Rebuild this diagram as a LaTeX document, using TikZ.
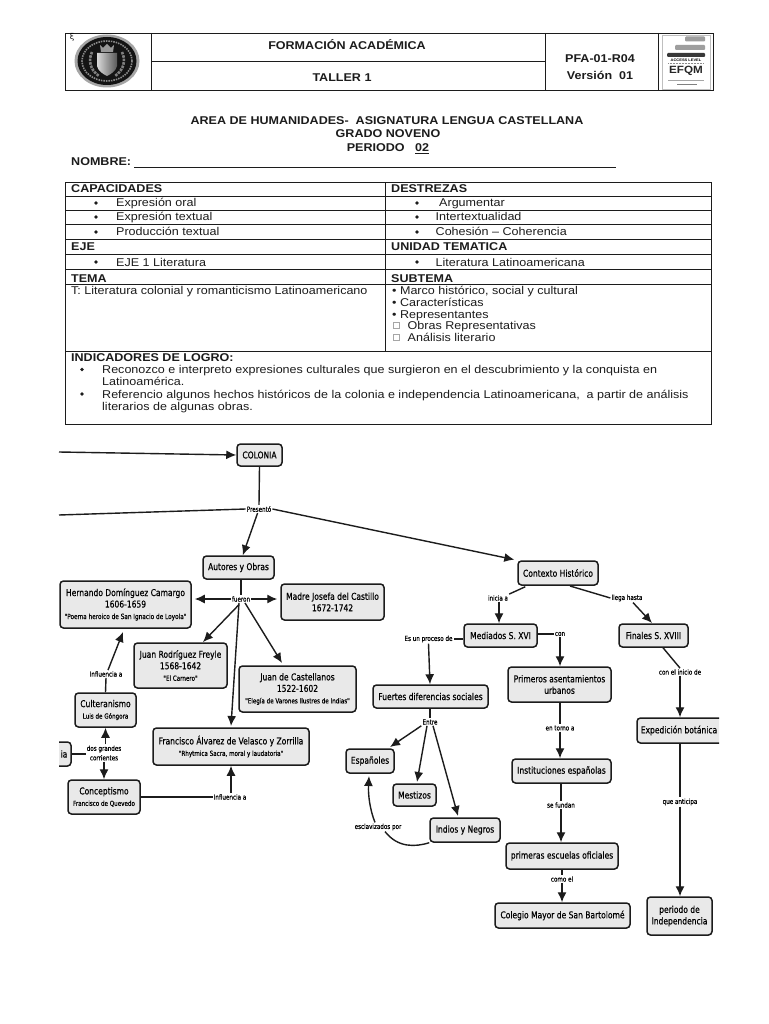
\documentclass[tikz,border=0pt]{standalone}
\usepackage{fontspec}
\setmainfont[FakeStretch=1.11]{Liberation Sans}
\newfontfamily\mapfont[FakeStretch=0.8,FakeBold=0.5]{DejaVu Sans}
\newfontfamily\symfont{DejaVu Sans}
\usetikzlibrary{arrows.meta,calc}
\definecolor{ink}{HTML}{1C1C1C}
\definecolor{boxfill}{HTML}{E9E9E9}
\tikzset{
  x=1pt,y=-1pt,
  frame/.style={draw=ink,line width=0.9pt},
  rule/.style={draw=ink,line width=0.8pt},
  head/.style={font=\fontsize{11.3}{13}\selectfont\bfseries,text=ink,inner sep=0pt,anchor=base,yshift=-4pt},
  cellb/.style={font=\fontsize{11.3}{13}\selectfont\bfseries,text=ink,inner sep=0pt,anchor=base west,yshift=-4pt},
  cell/.style={font=\fontsize{11.3}{13}\selectfont,text=ink,inner sep=0pt,anchor=base west,yshift=-4pt},
  dot/.style={fill=ink,circle,inner sep=0pt,minimum size=3.6pt},
  chk/.style={draw=black!35,line width=0.4pt,inner sep=0pt,minimum size=6pt},
  concept/.style={draw=ink,line width=1.5pt,fill=boxfill,rounded corners=3.5pt,inner sep=0pt,
    align=center,text=black,font=\mapfont\fontsize{9.45}{11.5}\selectfont},
  link/.style={font=\mapfont\fontsize{7}{9.5}\selectfont,text=black,inner sep=1pt,align=center},
  line/.style={draw=ink,line width=1.4pt},
  arr/.style={draw=ink,line width=1.4pt,-{Latex[length=10pt,width=9pt]}},
}
\newcommand{\cbox}[6]{\node[concept,minimum width=#3-#1,minimum height=#4-#2] (#5) at ({(#1+#3)/2},{(#2+#4)/2}) {#6};}
\newcommand{\subl}[1]{{\fontsize{7}{8}\selectfont #1}}
\begin{document}
\begin{tikzpicture}
\useasboundingbox[fill=white] (0,0) rectangle (768,1024);
% ---------- header
\path[frame] (65,33) rectangle (713,90.5);
\path[rule] (151,33) -- (151,90.5) (545,33) -- (545,90.5) (658,33) -- (658,90.5) (151,61.5) -- (545,61.5);
\node[head] (h1) at (347,46) {FORMACIÓN ACADÉMICA};
\node[head] (h2) at (342,78) {TALLER 1};
\node[head] (h3) at (600,59) {PFA-01-R04};
\node[head] (h4) at (600,76) {Versión\ \ 01};
% school seal
\node[font=\fontsize{8}{9}\selectfont,inner sep=0pt] (xi) at (72,37) {\symfont ξ};
\path[fill=black!35] (107,61) ellipse (32.5 and 26.5);
\path[fill=black!92] (107,61) ellipse (29.5 and 24);
\path[draw=black!45,line width=1.6pt,dash pattern=on 1.5pt off 1pt] (107,61) ellipse (25 and 20);
\path[draw=black!50,line width=2.6pt,dash pattern=on 2.5pt off 1pt] (92,52) .. controls (88,60) and (90,70) .. (99,76);
\path[draw=black!50,line width=2.6pt,dash pattern=on 2.5pt off 1pt] (122,52) .. controls (126,60) and (124,70) .. (115,76);
\path[left color=black!15,right color=black!65] (97,53) -- (117,53) -- (117,66) .. controls (116,71) and (111,74) .. (107,76) .. controls (103,74) and (98,71) .. (97,66) -- cycle;
\path[fill=black!40] (100,45) -- (103,48) -- (107,44) -- (111,48) -- (114,45) -- (113,52) -- (101,52) -- cycle;
% EFQM badge
\path[draw=black!25,line width=0.5pt] (662,35) rectangle (710,89);
\path[fill=black!38,rounded corners=1pt] (685,36.5) rectangle (705,41.5);
\path[fill=black!38,rounded corners=1pt] (675,45) rectangle (705,50);
\path[fill=black!78,rounded corners=1pt] (667,53) rectangle (705,57);
\node[font=\fontsize{3.6}{4}\selectfont\bfseries,inner sep=0pt] (ac) at (686,60) {ACCESS LEVEL};
\path[draw=black!45,line width=0.6pt,dash pattern=on 1pt off 0.5pt] (668,63) -- (704,63);
\node[font=\fontsize{10.5}{11}\selectfont\bfseries,inner sep=0pt,text=black!85] (efqm) at (686,71) {EFQM};
\path[draw=black!35,line width=0.5pt] (668,80) -- (704,80);
\path[draw=black!50,line width=0.7pt] (677,84.5) -- (697,84.5);
% ---------- title
\node[head] (t1) at (387,121) {AREA DE HUMANIDADES-\ \ ASIGNATURA LENGUA CASTELLANA};
\node[head] (t2) at (388,134) {GRADO NOVENO};
\node[head] (t3) at (388,148) {PERIODO\ \ \ \underline{02}};
\node[cellb] (t4) at (71,162) {NOMBRE:};
\path[draw=ink,line width=0.8pt] (134,167) -- (616,167);
% ---------- table
\path[frame] (65,182.5) rectangle (711,424);
\path[rule] (385.5,182.5) -- (385.5,351);
\foreach \yy in {196,210,224.5,239,254,269,284.5,351} {\path[rule] (65,\yy) -- (711,\yy);}
\node[cellb] (c1) at (71,189) {CAPACIDADES};
\node[cellb] (c2) at (391,189) {DESTREZAS};
\node[dot] (d1) at (96,203) {};
\node[cell] (c3) at (116,203) {Expresión oral};
\node[dot] (d2) at (96,217) {};
\node[cell] (c4) at (116,217) {Expresión textual};
\node[dot] (d3) at (96,232) {};
\node[cell] (c5) at (116,232) {Producción textual};
\node[dot] (d4) at (417,203) {};
\node[cell] (c6) at (439,203) {Argumentar};
\node[dot] (d5) at (417,217) {};
\node[cell] (c7) at (435.5,217) {Intertextualidad};
\node[dot] (d6) at (417,232) {};
\node[cell] (c8) at (435.5,232) {Cohesión – Coherencia};
\node[cellb] (c9) at (71,247) {EJE};
\node[cellb] (c10) at (391,247) {UNIDAD TEMATICA};
\node[dot] (d7) at (96,262) {};
\node[cell] (c11) at (116,262) {EJE 1 Literatura};
\node[dot] (d8) at (417,262) {};
\node[cell] (c12) at (435.5,262) {Literatura Latinoamericana};
\node[cellb] (c13) at (71,278) {TEMA};
\node[cellb] (c14) at (391,278) {SUBTEMA};
\node[cell] (c15) at (71,290.5) {T: Literatura colonial y romanticismo Latinoamericano};
\node[cell] (c16) at (392,290.5) {• Marco histórico, social y cultural};
\node[cell] (c17) at (392,302) {• Características};
\node[cell] (c18) at (392,314) {• Representantes};
\node[chk] (b1) at (396,325.5) {};
\node[cell] (c19) at (407.5,325.5) {Obras Representativas};
\node[chk] (b2) at (396,337.5) {};
\node[cell] (c20) at (407.5,337.5) {Análisis literario};
\node[cellb] (c21) at (71,357.5) {INDICADORES DE LOGRO:};
\node[dot] (d9) at (82,369.5) {};
\node[cell] (c22) at (102,369.5) {Reconozco e interpreto expresiones culturales que surgieron en el descubrimiento y la conquista en};
\node[cell] (c23) at (102,381) {Latinoamérica.};
\node[dot] (d10) at (82,394) {};
\node[cell] (c24) at (102,394) {Referencio algunos hechos históricos de la colonia e independencia Latinoamericana,\ \ a partir de análisis};
\node[cell] (c25) at (102,406) {literarios de algunas obras.};
% ---------- concept map nodes
\cbox{237}{444}{282}{466}{col}{COLONIA}
\cbox{203}{556}{274}{579}{aut}{Autores y Obras}
\cbox{60}{581}{191}{628}{her}{Hernando Domínguez Camargo\\1606-1659\\{\fontsize{7.2}{8}\selectfont "Poema heroico de San Ignacio de Loyola"}}
\cbox{281}{584}{384}{620}{mad}{Madre Josefa del Castillo\\1672-1742}
\cbox{134}{643}{227}{688}{jro}{Juan Rodríguez Freyle\\1568-1642\\\subl{"El Carnero"}}
\cbox{239}{666}{356}{712}{jca}{Juan de Castellanos\\1522-1602\\\subl{"Elegía de Varones Ilustres de Indias"}}
\cbox{75}{693}{136}{727}{cul}{Culteranismo\\\subl{Luis de Góngora}}
\cbox{153}{728}{309}{765}{fra}{Francisco Álvarez de Velasco y Zorrilla\\\subl{"Rhytmica Sacra, moral y laudatoria"}}
\cbox{68}{780}{140}{814}{con}{Conceptismo\\\subl{Francisco de Quevedo}}
\cbox{518}{561}{598}{585}{ctx}{Contexto Histórico}
\cbox{464}{624}{537}{647}{med}{Mediados S. XVI}
\cbox{619}{624}{688}{647}{fin}{Finales S. XVIII}
\cbox{508}{667}{611}{702}{pri}{Primeros asentamientos\\urbanos}
\cbox{373}{685}{488}{708}{fue}{Fuertes diferencias sociales}
\cbox{346}{749}{394}{773}{esp}{Españoles}
\cbox{393}{784}{436}{806}{mes}{Mestizos}
\cbox{430}{818}{500}{842}{ind}{Indios y Negros}
\cbox{512}{759}{611}{783}{ins}{Instituciones españolas}
\cbox{506}{843}{618}{869}{pes}{primeras escuelas oficiales}
\cbox{495}{903}{630}{928}{cma}{Colegio Mayor de San Bartolomé}
\cbox{647}{897}{712}{935}{per}{periodo de\\Independencia}
% concepts cut by the picture's crop
\begin{scope}
\clip (59,730) rectangle (719,950);
\cbox{30}{742}{71}{766}{lit}{\hspace*{27pt}ia}
\end{scope}
\begin{scope}
\clip (600,700) rectangle (719,750);
\cbox{637}{718}{735}{743}{exp}{Expedición botánica\hspace*{14pt}}
\end{scope}
% link labels
\node[link] (lpre) at (259,509) {Presentó};
\node[link] (lfue) at (241,599) {fueron};
\node[link] (linf) at (106,674) {Influencia a};
\node[link] (lcor) at (104,753) {dos grandes\\corrientes};
\node[link] (linf2) at (230,797) {Influencia a};
\node[link] (lini) at (498,598) {inicia a};
\node[link] (llle) at (627,598) {llega hasta};
\node[link] (lpro) at (428.5,639) {Es un proceso de};
\node[link] (lcon) at (560,634) {con};
\node[link] (lcin) at (680,672) {con el inicio de};
\node[link] (ltor) at (560,728) {en torno a};
\node[link] (lent) at (430,722) {Entre};
\node[link] (lfun) at (561,805) {se fundan};
\node[link] (lcom) at (562,879) {como el};
\node[link] (lant) at (680,802) {que anticipa};
\node[link] (lesc) at (378,827) {esclavizados por};
\coordinate (in1) at (59,452);
\coordinate (in2) at (59,515);
% connectors
\draw[arr] (in1) -- (col.west);
\draw[line] (in2) -- (lpre.west);
\draw[line] (col.south) -- (lpre.north);
\draw[arr] (lpre) -- (aut);
\draw[arr,shorten >=3pt] (lpre.east) -- (ctx.north west);
\draw[line] (aut.south -| lfue) -- (lfue.north);
\draw[arr] (lfue.west) -- ([xshift=3pt]lfue.west -| her.east);
\draw[arr] (lfue.east) -- ([xshift=-3pt]lfue.east -| mad.west);
\draw[arr] ([yshift=-2pt]lfue.south west) ++(8,0) -- (203,642);
\draw[arr] (lfue.south) ++(4,0) -- (282,663);
\draw[arr] (lfue.south) ++(-2,0) -- (231,726);
\draw[line] (cul.north) -- (linf.south);
\draw[arr] (linf.north) ++(2,0) -- (123,632);
\draw[arr] (lcor.north -| cul.south) -- (cul.south);
\draw[arr] (lcor.south -| con.north) -- (con.north);
\draw[line] (lit.east) -- (lit.east -| lcor.west);
\draw[line] (con.east) -- (linf2.west);
\draw[arr] (linf2.north -| 231,790) -- (fra.south -| 231,766);
\draw[line] (ctx.south west) ++(8,1) -- (lini.north east);
\draw[arr] (lini.south) ++(1,0) -- (med.north -| 499,622);
\draw[line] (570,586) -- (llle.west);
\draw[arr] (llle.south) ++(6,0) -- (652,623);
\draw[line] (med.west |- lpro) -- (lpro.east);
\draw[arr] (lpro.south) -- (fue.north -| 430,684);
\draw[line] (med.east |- lcon) -- (lcon.west);
\draw[arr] (lcon.south) -- (pri.north -| 560,666);
\draw[line] (pri.south -| ltor) -- (ltor.north);
\draw[arr] (ltor.south) -- (ins.north -| 560,758);
\draw[line] (fin.south -| 663,648) -- (lcin.north);
\draw[arr] (lcin.south) -- (exp.north -| 680,716);
\draw[line] (fue.south -| lent) -- (lent.north);
\draw[arr] (lent.south west) -- (390,747);
\draw[arr] (lent.south) ++(-3,0) -- (417,782);
\draw[arr] (lent.south) ++(3,0) -- (458,816);
\draw[line] (ins.south -| lfun) -- (lfun.north);
\draw[arr] (lfun.south) -- (pes.north -| lfun);
\draw[line] (pes.south -| lcom) -- (lcom.north);
\draw[arr] (lcom.south) -- (cma.north -| lcom);
\draw[line] (exp.south -| lant) -- (lant.north);
\draw[arr] (lant.south) -- (per.north -| lant);
\draw[line] (ind.south west) .. controls (415,847) and (398,848) .. (lesc.south -| 385,831);
\draw[arr] (lesc.north -| 375,824) .. controls (370,810) and (368,795) .. (369,776);
\end{tikzpicture}
\end{document}
